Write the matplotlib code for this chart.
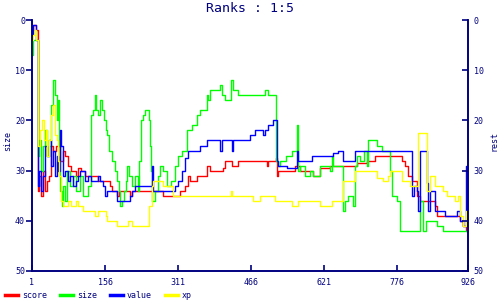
import matplotlib
matplotlib.use("Agg")
import matplotlib.pyplot as plt

# ---- data (step series) ----
score_x = [1, 3, 7, 10, 13, 16, 20, 24, 28, 33, 37, 41, 46, 52, 60, 67, 71, 77, 84, 94, 99, 105, 113, 135, 141, 156, 166, 171, 181, 186, 205, 209, 213, 262, 279, 304, 315, 326, 332, 336, 351, 372, 379, 404, 406, 410, 421, 425, 438, 495, 500, 502, 519, 521, 523, 531, 559, 570, 591, 597, 612, 633, 661, 690, 712, 729, 782, 786, 792, 799, 807, 818, 824, 856, 860, 903, 909, 915, 922, 926]
score_y = [2, 1, 1, 2, 34, 31, 35, 30, 34, 32, 31, 25, 26, 25, 28, 26, 27, 29, 30, 31, 29.5, 30, 31, 31, 32, 32, 33, 34, 35, 34, 34, 35, 34, 34, 35, 35, 34, 33, 31, 32, 31, 29, 30, 30, 29.5, 28, 28, 29, 28, 28, 29, 28, 27.5, 31, 30, 30, 29, 30, 30, 31, 29.5, 29, 29, 28.5, 28, 27, 27, 28, 29, 31, 32, 35, 36, 37, 39, 39, 40, 41, 42, 40]

size_x = [1, 3, 13, 16, 20, 24, 28, 33, 37, 41, 46, 50, 54, 56, 58, 60, 65, 67, 71, 75, 82, 88, 94, 103, 109, 120, 126, 130, 135, 137, 141, 145, 149, 154, 158, 160, 164, 171, 177, 181, 185, 188, 192, 196, 200, 203, 207, 213, 220, 226, 229, 232, 236, 241, 249, 251, 254, 256, 262, 268, 273, 279, 287, 296, 304, 311, 319, 330, 340, 351, 357, 372, 374, 379, 396, 400, 404, 410, 421, 423, 428, 438, 449, 459, 474, 495, 502, 519, 523, 527, 540, 553, 563, 565, 570, 580, 591, 597, 612, 633, 637, 640, 661, 665, 672, 682, 686, 690, 697, 705, 712, 714, 724, 733, 743, 756, 761, 765, 775, 782, 824, 831, 836, 850, 860, 873, 920, 926]
size_y = [7, 4, 27, 24, 30, 25, 22, 27, 25, 17, 12, 15, 20, 16, 25, 34, 37, 33, 36, 30, 33, 31, 34, 31, 35, 33, 19, 18, 15, 18, 19, 16, 18, 20, 22, 23, 26, 28, 30, 32, 34, 37, 36, 34, 32, 29, 31, 33, 31, 34, 28, 20, 19, 18, 20, 25, 30, 36, 34, 31, 29, 30, 33, 32, 29, 27, 26, 22, 21, 19, 18, 15, 16, 14, 14, 13, 15, 16, 16, 12, 14, 15, 15, 15, 15, 14, 15, 28, 29, 28, 27, 26, 21, 30, 29, 31, 30, 31, 29, 30, 27, 29, 38, 36, 35, 37, 29, 27, 28, 26, 29, 24, 24, 25, 26, 26, 30, 35, 36, 42, 36, 42, 40, 40, 41, 42, 42, 43]

value_x = [1, 3, 7, 10, 13, 16, 20, 24, 28, 33, 37, 41, 46, 50, 54, 56, 60, 63, 67, 71, 77, 82, 88, 94, 99, 103, 113, 120, 126, 135, 141, 145, 152, 156, 160, 177, 181, 203, 209, 213, 220, 251, 256, 258, 300, 304, 311, 319, 326, 332, 357, 372, 396, 400, 404, 421, 425, 428, 459, 464, 474, 491, 495, 502, 513, 521, 523, 542, 563, 565, 595, 640, 650, 661, 686, 803, 807, 812, 818, 820, 824, 839, 841, 845, 856, 877, 903, 909, 915, 920, 922, 924, 926]
value_y = [3, 1, 1, 4, 33, 30, 34, 31, 25, 27, 24, 29, 26, 31, 27, 30, 22, 25, 31, 30, 32, 31, 33, 32, 31, 30, 32, 31, 32, 32, 31, 32, 33, 35, 34, 34, 36, 36, 35, 34, 33, 33, 29, 34, 34, 33, 32, 30, 27.5, 26, 25, 24, 24, 26, 24, 24, 26, 24, 24, 23, 22, 23, 22, 21, 20, 28, 29, 29.5, 26, 28, 27, 26.5, 26, 28, 26, 26, 35, 33, 34, 38, 26, 32.5, 38, 34, 38, 39, 38, 40, 41, 41, 29, 42, 40]

xp_x = [1, 3, 7, 10, 13, 18, 22, 26, 30, 33, 37, 41, 46, 50, 54, 56, 58, 63, 67, 77, 84, 94, 99, 109, 126, 135, 141, 158, 160, 181, 205, 213, 226, 245, 249, 256, 258, 279, 300, 423, 425, 470, 485, 517, 553, 565, 612, 637, 661, 686, 733, 746, 756, 761, 786, 803, 820, 839, 845, 856, 873, 881, 898, 905, 909, 915, 922, 926]
xp_y = [4, 3, 2, 4, 25, 22, 20, 24, 22, 27, 24, 19, 17, 23, 24, 28, 31, 36, 37, 36, 37, 36, 37, 38, 38, 39, 38, 39, 40, 41, 40, 41, 41, 41, 37, 33, 32, 33, 35, 34, 35, 36, 35, 36, 37, 36, 37, 36, 32, 30, 31.5, 32, 31, 30, 32, 33, 22.5, 34, 31, 33, 34, 35, 36, 35, 39, 41, 38, 40]

series_names = ["score", "size", "value", "xp"]
series_colors = ["#ff0000", "#00ff00", "#0000ff", "#ffff00"]
x_ticks = [1, 156, 311, 466, 621, 776, 926]
y_ticks = [0, 10, 20, 30, 40, 50]
title_text = "Ranks : 1:5"

NAVY = "#000080"
plt.rcParams["font.family"] = ["DejaVu Sans Mono", "DejaVu Sans"]

fig = plt.figure(figsize=(5, 3), dpi=100)
ax = fig.add_axes([0.064, 0.0967, 0.872, 0.8366])

data = [(score_x, score_y), (size_x, size_y), (value_x, value_y), (xp_x, xp_y)]
for (xs, ys), name, col in zip(data, series_names, series_colors):
    ax.plot(xs, ys, drawstyle="steps-post", color=col, lw=1.0, label=name)

ax.set_xlim(1, 926)
ax.set_ylim(50, 0)
ax.set_xticks(x_ticks)
ax.set_yticks(y_ticks)
ax.spines["top"].set_visible(False)
for s in ["left", "right", "bottom"]:
    ax.spines[s].set_color(NAVY)
    ax.spines[s].set_linewidth(1.2)
ax.tick_params(axis="y", direction="out", length=4, width=1.2, color=NAVY,
               labelcolor=NAVY, labelsize=6, pad=1)
ax.tick_params(axis="x", direction="in", length=4, width=1.2, color=NAVY,
               labelcolor=NAVY, labelsize=6, pad=5)
ax.set_ylabel("size", color=NAVY, fontsize=6)
ax.yaxis.set_label_coords(-0.046, 0.518)

ax2 = ax.twinx()
ax2.set_ylim(50, 0)
ax2.set_yticks(y_ticks)
ax2.spines["top"].set_visible(False)
for s in ["left", "right", "bottom"]:
    ax2.spines[s].set_color(NAVY)
    ax2.spines[s].set_linewidth(1.2)
ax2.tick_params(axis="y", direction="in", length=4, width=1.2, color=NAVY,
                labelcolor=NAVY, labelsize=6, pad=4)
ax2.set_ylabel("rest", color=NAVY, fontsize=6, rotation=90)
ax2.yaxis.set_label_coords(1.05, 0.518)

fig.text(0.5, 0.972, title_text, ha="center", va="center", color=NAVY, fontsize=9.5)

handles, labels = ax.get_legend_handles_labels()
leg = fig.legend(handles, labels, loc="lower left", bbox_to_anchor=(-0.005, -0.025),
                 ncol=4, frameon=False, fontsize=6, handlelength=1.6,
                 handletextpad=0.4, columnspacing=1.6, labelcolor=NAVY)
for ln in leg.get_lines():
    ln.set_linewidth(2.5)

fig.savefig("out.png", dpi=100, facecolor="white")
